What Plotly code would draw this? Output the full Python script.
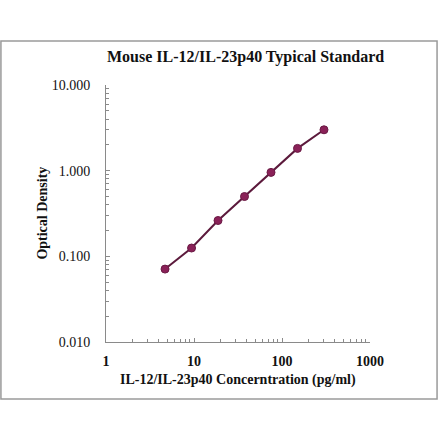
import plotly.graph_objects as go

# standard curve points (pg/ml vs OD)
conc = [4.69, 9.38, 18.75, 37.5, 75, 150, 300]
od = [0.071, 0.125, 0.262, 0.499, 0.955, 1.82, 3.0]

x_ticks = [1, 10, 100, 1000]
y_ticks = [0.01, 0.1, 1, 10]

serif = "Liberation Serif, Times New Roman, serif"

fig = go.Figure()
fig.add_trace(go.Scatter(
    x=conc, y=od, mode="lines+markers",
    line=dict(color="#5c1a3c", width=2),
    marker=dict(size=8, color="#8a2158", line=dict(color="#6a1a44", width=1)),
    showlegend=False,
))

axis_common = dict(
    type="log", showgrid=False, zeroline=False,
    showline=True, linecolor="#8a8a8a", linewidth=1,
    ticks="inside", ticklen=4, tickcolor="#8a8a8a",
    minor=dict(ticks="inside", ticklen=3, tickcolor="#8a8a8a", dtick="D1"),
)

fig.update_xaxes(axis_common, range=[0, 3], tickvals=x_ticks,
                 ticktext=["<b>%d</b>" % v for v in x_ticks],
                 tickfont=dict(family=serif, size=14, color="#111"),
                 ticklabelstandoff=6)
fig.update_yaxes(axis_common, range=[-2, 1], tickvals=y_ticks,
                 tickformat=".3f", ticklabelstandoff=12,
                 tickfont=dict(family=serif, size=14, color="#111"))

# title and axis titles as annotations
fig.add_annotation(text="<b>Mouse IL-12/IL-23p40 Typical Standard</b>",
                   xref="paper", yref="paper", x=0.53, y=1.109,
                   xanchor="center", yanchor="middle", showarrow=False,
                   font=dict(family=serif, size=16, color="#111"))
fig.add_annotation(text="<b>IL-12/IL-23p40 Concerntration (pg/ml)</b>",
                   xref="paper", yref="paper", x=0.5, y=-0.148,
                   xanchor="center", yanchor="middle", showarrow=False,
                   font=dict(family=serif, size=14, color="#111"))
fig.add_annotation(text="<b>Optical Density</b>",
                   xref="paper", yref="paper", x=-0.242, y=0.5, textangle=-90,
                   xanchor="center", yanchor="middle", showarrow=False,
                   font=dict(family=serif, size=14, color="#111"))

# outer frame
fig.add_shape(type="rect", xref="paper", yref="paper",
              x0=-0.398, x1=1.254, y0=-0.222, y1=1.171,
              line=dict(color="#9a9a9a", width=1.5))

fig.update_layout(
    width=440, height=441,
    margin=dict(l=106, r=70, t=85, b=99),
    paper_bgcolor="white", plot_bgcolor="white",
)

fig.write_html("out.html", config={"displayModeBar": False},
               post_script="document.body.style.margin='0';")
